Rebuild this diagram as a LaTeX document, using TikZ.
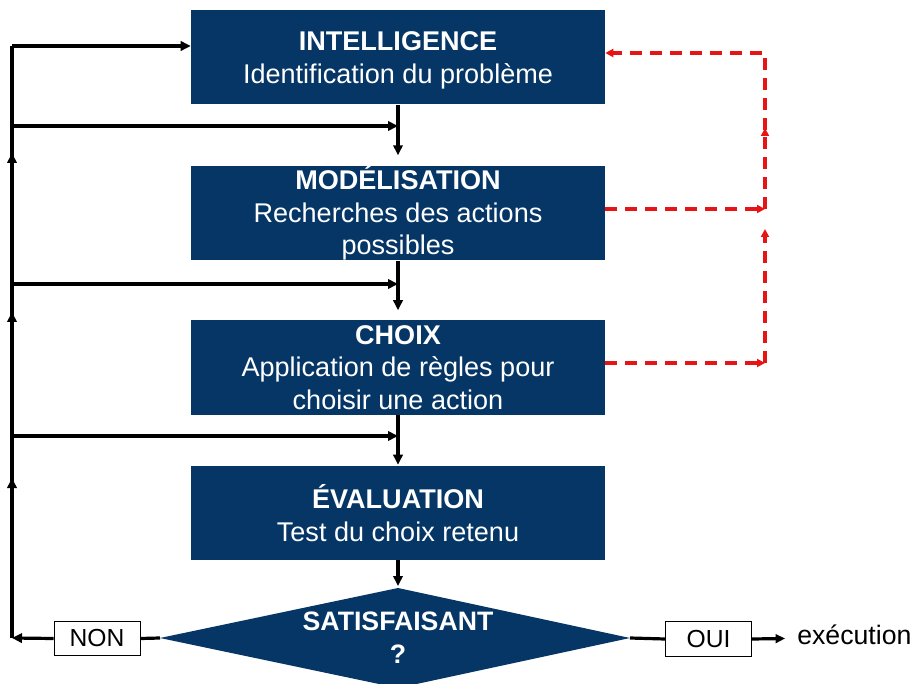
\documentclass[tikz,border=0pt]{standalone}
\usepackage{fontspec}
\setmainfont{Liberation Sans}
\usetikzlibrary{arrows.meta,calc}
\definecolor{navy}{RGB}{5,54,102}
\definecolor{loopred}{RGB}{230,20,20}
\begin{document}
\begin{tikzpicture}[x=0.75pt,y=-0.75pt,
  stagebox/.style={fill=navy,text=white,minimum width=310.5pt,minimum height=70.5pt,
    inner sep=0pt,align=center,font=\fontsize{20.3}{24.5}\selectfont},
  answer/.style={draw=black,line width=0.7pt,fill=white,minimum width=64.5pt,
    minimum height=26pt,inner sep=0pt,font=\fontsize{18.5}{22}\selectfont},
  flow/.style={line width=2.4pt,-{Triangle[length=7.5pt,width=7pt]}},
  plain/.style={line width=2.4pt},
  feedback/.style={draw=loopred,line width=2.7pt,dash pattern=on 9pt off 6pt,
    -{Triangle[length=6pt,width=6pt]}}]
\useasboundingbox (0,0) rectangle (914,684);

% stages of the decision process
\node[stagebox] (intel) at (398,57.5) {\textbf{\vphantom{É}INTELLIGENCE}\\Identification du problème};
\node[stagebox] (model) at (398,213) {\textbf{MODÉLISATION}\\Recherches des actions\\possibles};
\node[stagebox] (choix) at (398,367.5) {\textbf{CHOIX}\\Application de règles pour\\choisir une action};
\node[stagebox] (eval) at (398,513) {\textbf{ÉVALUATION}\\Test du choix retenu};

% decision diamond
\coordinate (dtop) at (398,588);
\coordinate (dleft) at (160,638);
\coordinate (dright) at (630,638);
\coordinate (dbot) at (398,688);
\fill[navy] (dtop) -- (dright) -- (dbot) -- (dleft) -- cycle;
\node[text=white,align=center,font=\fontsize{20}{24.5}\selectfont\bfseries] (sat) at (398,638) {SATISFAISANT\\?};

% answers
\node[answer] (non) at (97,638.5) {NON};
\node[answer] (oui) at (708.5,639) {OUI};
\node[anchor=west,font=\fontsize{20}{24}\selectfont,inner sep=0pt] (exec) at (797,635) {exécution};
\coordinate (exectip) at (785,638.5);

% main descending flow
\draw[flow] (intel.south) -- ($(model.north)+(0,-10)$);
\draw[flow] (model.south) -- ($(choix.north)+(0,-10)$);
\draw[flow] (choix.south) -- ($(eval.north)+(0,-1)$);
\draw[flow] (eval.south) -- ($(dtop)+(0,-2)$);

% return loop on the left
\coordinate (lb) at (12,638);
\coordinate (l0) at (12,46);
\coordinate (l1) at (12,126);
\coordinate (l2) at (12,284);
\coordinate (l3) at (12,436);
\draw[plain] (dleft) -- (non.east);
\draw[flow] (non.west) -- (lb);
\draw[plain] (lb) -- (l0);
\draw[flow] (lb) -- (12,478);
\draw[flow] (l3) -- (12,312);
\draw[flow] (l2) -- (12,153);
\draw[flow] (l0) -- (intel.west |- l0);
\draw[flow] (l1) -- (intel.south |- l1);
\draw[flow] (l2) -- (model.south |- l2);
\draw[flow] (l3) -- (choix.south |- l3);

% exit towards execution
\draw[plain] (dright) -- (oui.west);
\draw[line width=2.4pt,-{Triangle[length=7pt,width=6.5pt]}] (oui.east) -- (exectip);

% dashed feedback loop on the right
\coordinate (r0) at (765,53);
\coordinate (r1) at (765,209);
\coordinate (r2) at (765,363);
\draw[feedback] (model.east |- r1) -- (r1);
\draw[feedback] (choix.east |- r2) -- (r2);
\draw[feedback] (r2) -- (765,229);
\draw[feedback] (r1) -- (765,128);
\draw[feedback] (765,130) -- (r0) -- (intel.east |- r0);
\end{tikzpicture}
\end{document}
